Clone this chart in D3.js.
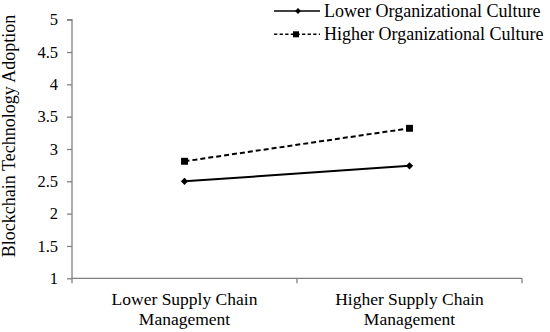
<!DOCTYPE html>
<html><head><meta charset="utf-8">
<script src="https://cdn.jsdelivr.net/npm/d3@7"></script>
</head><body style="margin:0;background:#fff"><svg id="c" width="550" height="332" font-family="Liberation Serif" style="display:block"></svg>
<script>
const categories = ["Lower Supply Chain|Management", "Higher Supply Chain|Management"];
const seriesNames = ["Lower Organizational Culture", "Higher Organizational Culture"];
const lowerOC = [2.5, 2.74];
const higherOC = [2.81, 3.32];
const yTicks = [1, 1.5, 2, 2.5, 3, 3.5, 4, 4.5, 5];
const yTitle = "Blockchain Technology Adoption";

(function () {
const FF = "Liberation Serif";
const svg = d3.select("#c");
const mLeft = 72, mRight = 522, mTop = 19.7, mBottom = 278.3;
const x = d3.scaleBand().domain(categories).range([mLeft, mRight]);
const y = d3.scaleLinear().domain([1, 5]).range([mBottom, mTop]);
const axisColor = "#808080";

// y axis
const ya = svg.append("g").attr("transform", `translate(${mLeft},0)`)
  .call(d3.axisLeft(y).tickValues(yTicks).tickSize(5).tickPadding(9).tickFormat(d => String(d)));
ya.attr("font-family", FF).attr("font-size", 16.5);
ya.select(".domain").attr("stroke", axisColor).attr("stroke-width", 1.3).attr("d", `M-5,${mTop}H0V${mBottom}`);
ya.selectAll(".tick line").attr("stroke", axisColor).attr("stroke-width", 1.3);
ya.selectAll(".tick text").attr("fill", "#000");

// x axis
const xa = svg.append("g").attr("transform", `translate(0,${mBottom})`);
xa.append("line").attr("x1", mLeft).attr("x2", mRight).attr("stroke", axisColor).attr("stroke-width", 1.3);
const xEdges = [mLeft, ...categories.map(c => x(c) + x.bandwidth())];
xa.selectAll(".xt").data(xEdges).join("line").attr("x1", d => d).attr("x2", d => d)
  .attr("y1", 0).attr("y2", 5).attr("stroke", axisColor).attr("stroke-width", 1.3);
categories.forEach(c => {
  const lines = c.split("|");
  const t = xa.append("text").attr("text-anchor", "middle").attr("font-size", 17.5).attr("font-family", FF)
    .attr("transform", `translate(${x(c) + x.bandwidth() / 2},0)`);
  lines.forEach((l, i) => t.append("tspan").attr("x", 0).attr("y", 27 + i * 20).text(l));
});

// y title
svg.append("text").attr("transform", `translate(15,${(mTop + mBottom) / 2 - 13}) rotate(-90)`)
  .attr("text-anchor", "middle").attr("font-size", 18).attr("font-family", FF).text(yTitle);

const cx = c => x(c) + x.bandwidth() / 2;
const line = d3.line().x((d, i) => cx(categories[i])).y(d => y(d));
const diamond = d3.symbol().type(d3.symbolDiamond2).size(34);
const square = d3.symbol().type(d3.symbolSquare).size(48);

// lower OC
svg.append("path").datum(lowerOC).attr("d", line).attr("fill", "none").attr("stroke", "#000").attr("stroke-width", 2);
svg.selectAll(".dm").data(lowerOC).join("path").attr("d", diamond)
  .attr("transform", (d, i) => `translate(${cx(categories[i])},${y(d)})`).attr("fill", "#000");
// higher OC
svg.append("path").datum(higherOC).attr("d", line).attr("fill", "none").attr("stroke", "#000")
  .attr("stroke-width", 2).attr("stroke-dasharray", "5,3");
svg.selectAll(".sq").data(higherOC).join("path").attr("d", square)
  .attr("transform", (d, i) => `translate(${cx(categories[i])},${y(d)})`).attr("fill", "#000");

// legend
const lg = svg.append("g");
const legY = [11, 34.3];
const legMarkX = [298, 296];
const legendDiamond = d3.symbol().type(d3.symbolDiamond2).size(22);
const legendSquare = d3.symbol().type(d3.symbolSquare).size(36);
seriesNames.forEach((n, i) => {
  const g = lg.append("g").attr("transform", `translate(0,${legY[i]})`);
  g.append("line").attr("x1", 274).attr("x2", 320).attr("stroke", "#000").attr("stroke-width", 1.5)
    .attr("stroke-dasharray", i ? "3.3,2.3" : null);
  g.append("path").attr("d", i ? legendSquare : legendDiamond).attr("transform", `translate(${legMarkX[i]},0)`).attr("fill", "#000");
  g.append("text").attr("x", 324).attr("y", 5.5).attr("font-size", 18).attr("font-family", FF).text(n);
});
})();
</script></body></html>
